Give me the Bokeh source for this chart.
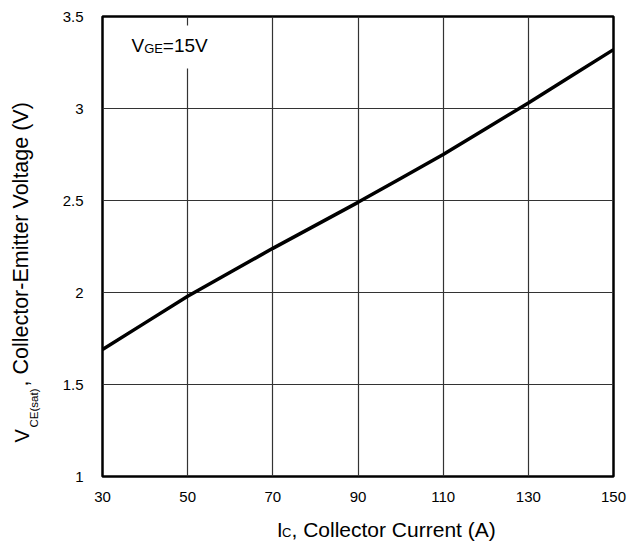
from bokeh.plotting import figure
from bokeh.models import Label, BoxAnnotation, FixedTicker, Range1d
from bokeh.embed import file_html
from bokeh.resources import INLINE
import math

# ---- data ----
ic = [30, 40, 50, 60, 70, 80, 90, 100, 110, 120, 130, 140, 150]
vce = [1.69, 1.835, 1.98, 2.11, 2.24, 2.365, 2.49, 2.62, 2.75, 2.89, 3.03, 3.175, 3.32]
x_ticks = [30, 50, 70, 90, 110, 130, 150]
x_tick_labels = ["30", "50", "70", "90", "110", "130", "150"]
y_ticks = [1, 1.5, 2, 2.5, 3, 3.5]
y_tick_labels = ["1", "1.5", "2", "2.5", "3", "3.5"]

FONT = "Liberation Sans"
X0, X1, Y0, Y1 = 30, 150, 1, 3.5

p = figure(width=633, height=542, output_backend="svg", toolbar_location=None,
           x_range=Range1d(X0, X1), y_range=Range1d(Y0, Y1),
           min_border_left=102, min_border_right=20, min_border_top=16, min_border_bottom=66)
p.background_fill_color = "white"
p.border_fill_color = "white"
p.outline_line_color = "black"
p.outline_line_width = 2.5

p.xaxis.ticker = FixedTicker(ticks=x_ticks)
p.yaxis.ticker = FixedTicker(ticks=y_ticks)
p.xaxis.major_label_overrides = {t: l for t, l in zip(x_ticks, x_tick_labels)}
p.yaxis.major_label_overrides = {t: l for t, l in zip(y_ticks, y_tick_labels)}
for ax in (p.xaxis[0], p.yaxis[0]):
    ax.axis_line_color = None
    ax.major_tick_line_color = None
    ax.minor_tick_line_color = None
    ax.major_label_text_font = FONT
    ax.major_label_text_font_size = "15px"
    ax.major_label_text_color = "black"
p.xaxis.major_label_standoff = 9
p.yaxis.major_label_standoff = 13

p.grid.grid_line_color = "#333333"
p.grid.grid_line_width = 1.2

p.line(ic, vce, line_color="black", line_width=3.5)

# canvas-pixel -> data helpers (frame: x 102..613, y 16..476 on canvas)
FL, FR, FT, FB = 102, 613, 16, 476
def px(x):
    return X0 + (x - FL) * (X1 - X0) / (FR - FL)
def py(y):
    return Y0 + (FB - y) * (Y1 - Y0) / (FB - FT)

# white box behind V_GE label
p.add_layout(BoxAnnotation(left=px(126), right=px(214), top=py(25), bottom=py(68),
                           fill_color="white", fill_alpha=1, line_alpha=0, level="underlay"))

K = 0.35  # observed anchor-to-baseline offset (fraction of font size)

def lab(x, y, t, size, angle=0.0, place="center"):
    # (x, y) is the wanted baseline start in canvas pixels
    if angle == 0.0:
        y = y - K * size
    else:
        x = x - K * size
    p.add_layout(Label(x=x, y=y, x_units="canvas", y_units="canvas", text=t,
                       text_font=FONT, text_font_size=f"{size}px",
                       text_color="black", text_align="left", text_baseline="alphabetic",
                       angle=angle), place)

# V_GE=15V
lab(131, 51.7, "V", 19)
lab(143.7, 52.2, "GE", 13)
lab(162.3, 51.7, "=15V", 19)

# x axis label (side panels only so the text is not clipped to the frame)
lab(276.5, 536, "I", 20, place="right")
lab(281.5, 537, "C", 13, place="right")
lab(291, 536, ", Collector Current (A)", 21, place="below")

# y axis label (rotated)
lab(28.3, 442, "V", 20, math.pi / 2, place="left")
lab(37.5, 427, "CE(sat)", 11.5, math.pi / 2, place="left")
lab(28.3, 386, ", Collector-Emitter Voltage (V)", 21.5, math.pi / 2, place="left")

open("out.html", "w").write(file_html(p, INLINE))
